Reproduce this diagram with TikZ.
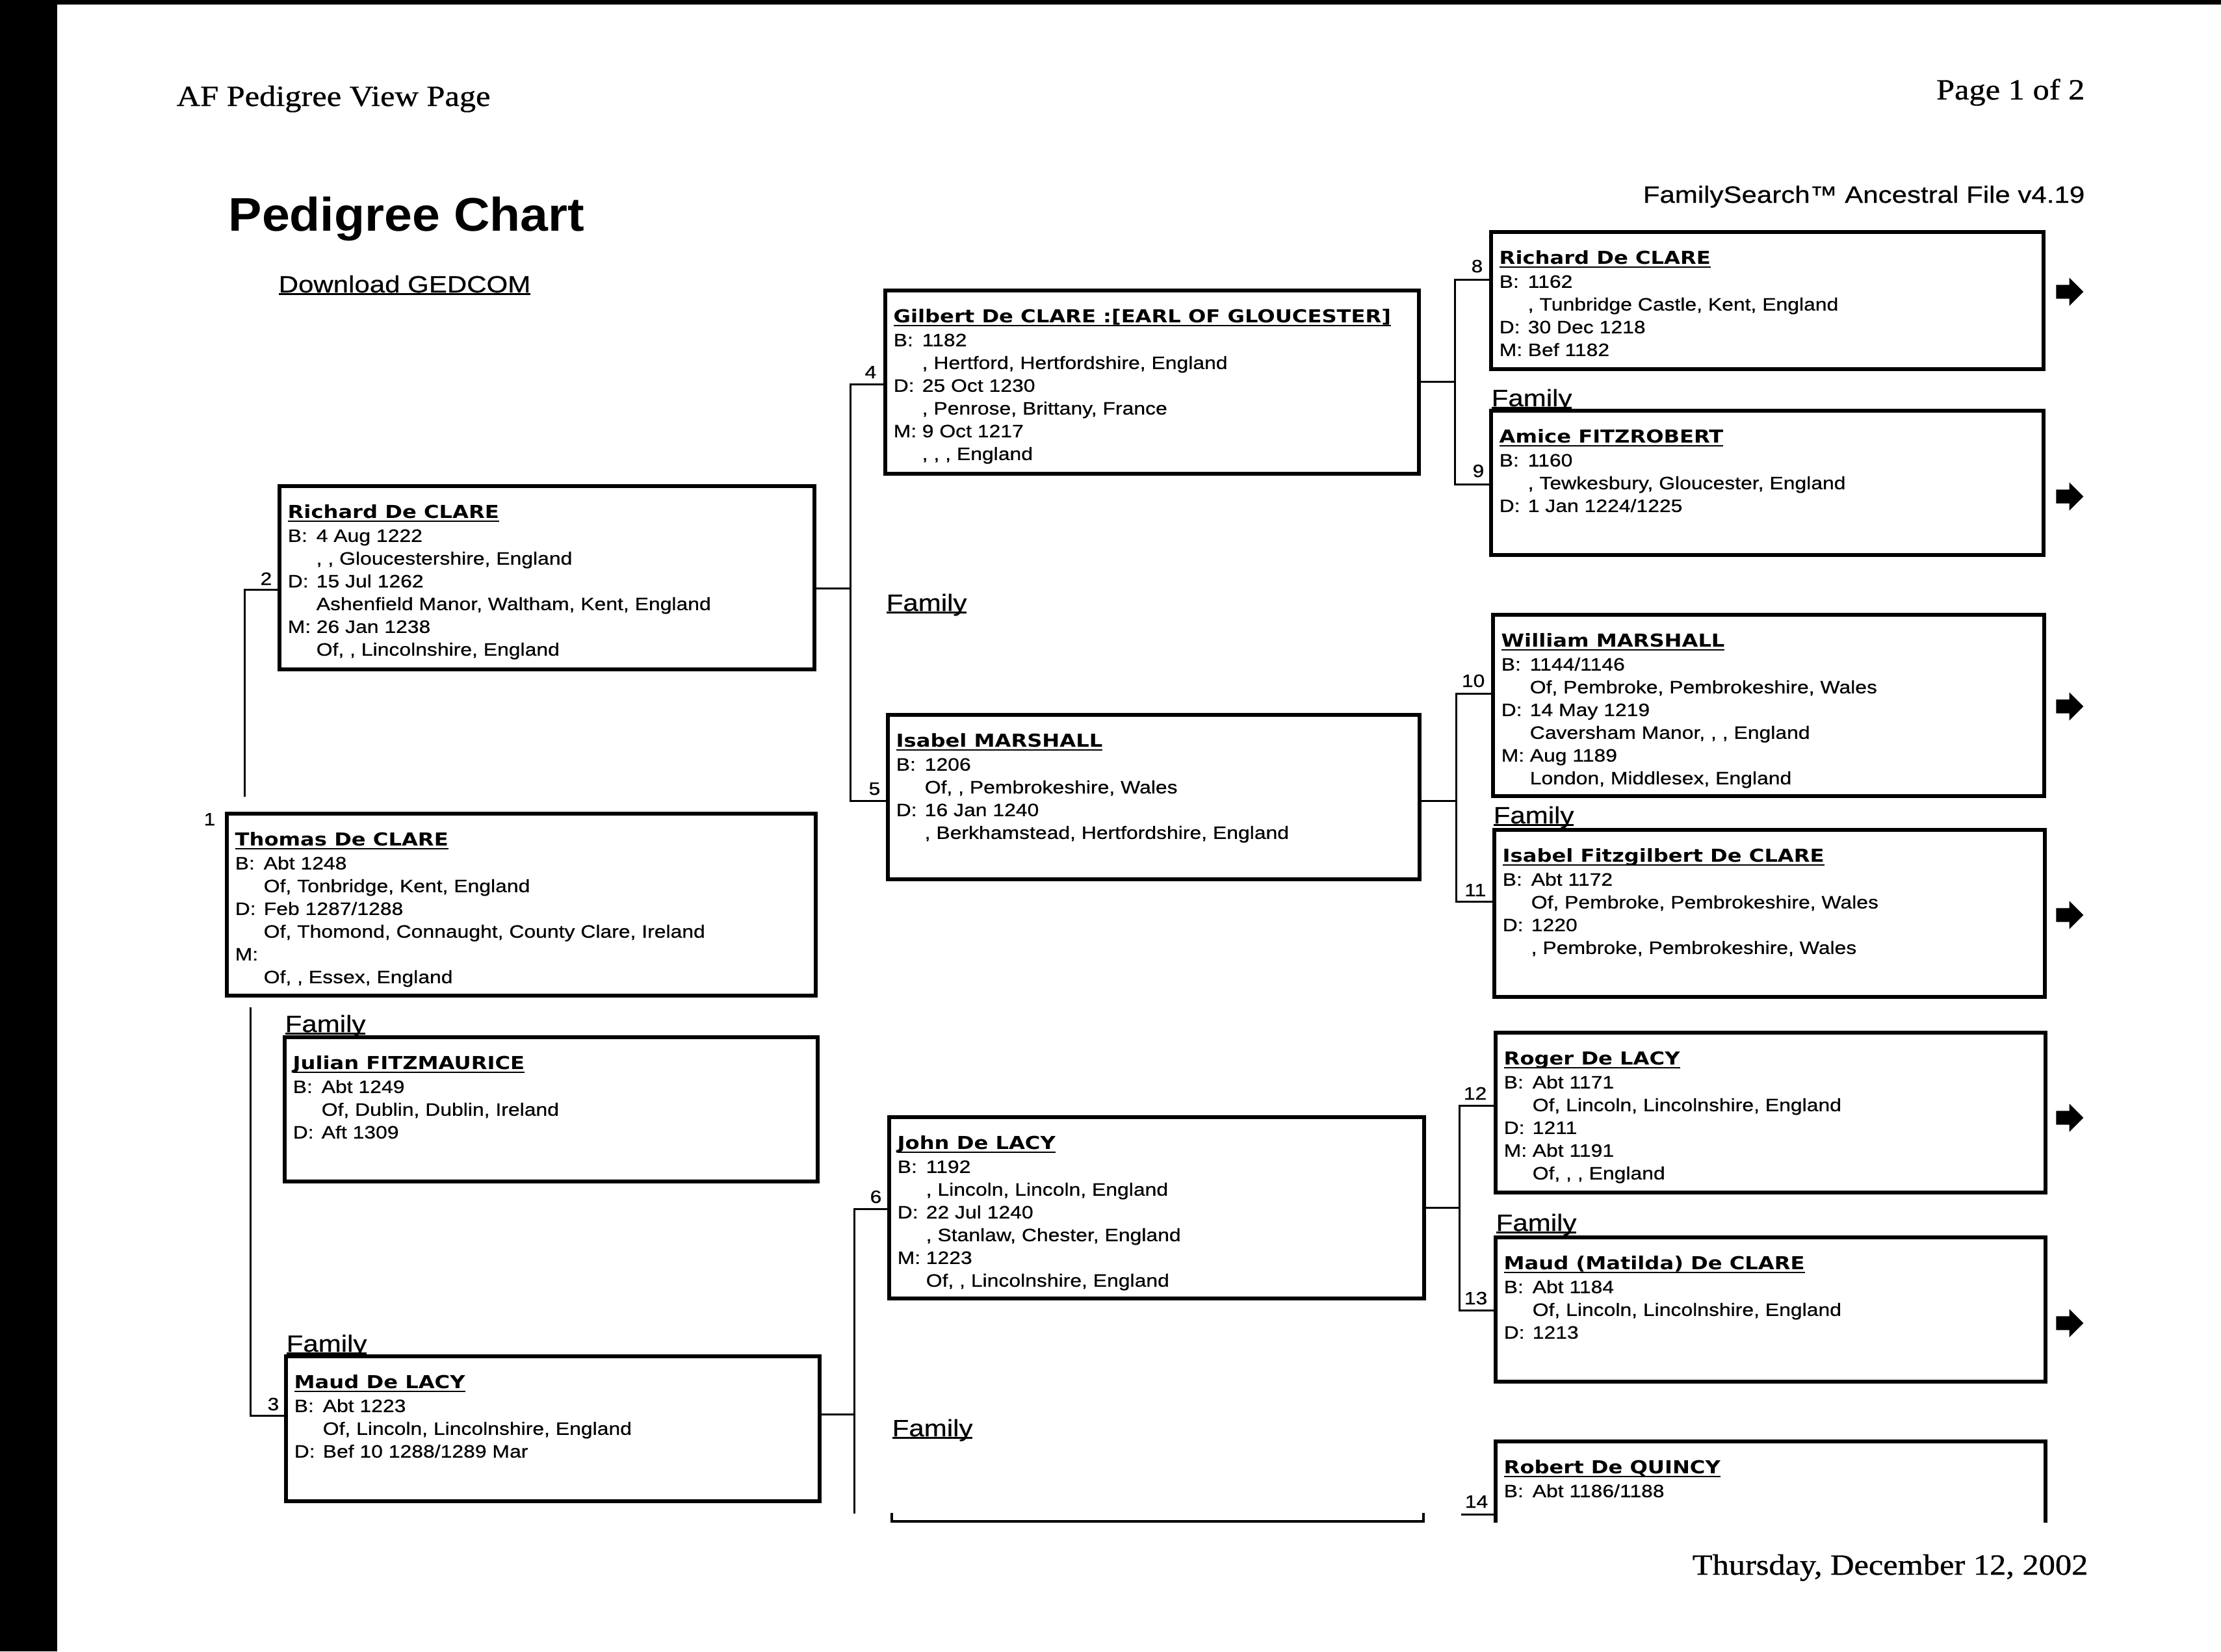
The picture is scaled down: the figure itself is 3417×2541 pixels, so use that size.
\documentclass[tikz,border=0pt]{standalone}
\usepackage{fontspec}
\setmainfont{Liberation Serif}
\newfontfamily\serifx{Liberation Serif}[FakeStretch=1.12,FakeBold=0.8]
\newfontfamily\sansx{Liberation Sans}[FakeStretch=1.16,FakeBold=0.6]
\newfontfamily\titlex{Liberation Sans}[FakeStretch=1.06]
\newfontfamily\namex{DejaVu Sans}[FakeStretch=1.17]
\usetikzlibrary{fit}
\usetikzlibrary{positioning}
\usetikzlibrary{shapes.arrows}

\newcommand{\hdrfont}{\serifx\fontsize{12.8pt}{15pt}\selectfont}
\newcommand{\titlefont}{\titlex\bfseries\fontsize{20.65pt}{24pt}\selectfont}
\newcommand{\linkfont}{\sansx\fontsize{10.3pt}{12pt}\selectfont}
\newcommand{\boxfont}{\sansx\fontsize{7.82pt}{0.35cm}\selectfont}
\newsavebox\ulbox
\newcommand{\ul}[1]{\sbox\ulbox{#1}\rlap{\rule[-0.035cm]{\wd\ulbox}{0.022cm}}\usebox\ulbox}
\newcommand{\pname}[1]{\rule{0pt}{0.3cm}\sbox\ulbox{\namex\bfseries #1}\rlap{\rule[-0.055cm]{\wd\ulbox}{0.025cm}}\usebox\ulbox}
\newcommand{\fld}[2]{\makebox[0.44cm][l]{#1}#2}
\newcommand{\cont}[1]{\hspace*{0.44cm}#1}

\begin{document}
\begin{tikzpicture}[x=0.01cm,y=-0.01cm,
  pbox/.style={draw,line width=0.06cm,inner sep=0pt,outer sep=0pt},
  ptext/.style={anchor=north west,inner sep=0pt,align=left,font=\boxfont},
  link/.style={line width=0.03cm},
  num/.style={anchor=base east,inner sep=0pt,font=\boxfont},
  famlabel/.style={anchor=base west,inner sep=0pt,font=\linkfont},
  nextgen/.style={single arrow,fill=black,inner xsep=0pt,inner ysep=0.1cm,minimum height=0.42cm,single arrow head extend=0.11cm,single arrow head indent=0pt}]
  \useasboundingbox (0,0) rectangle (3417,2541);
  \fill[white] (0,0) rectangle (3417,2541);
  \fill[black] (0,0) rectangle (88,2541);
  \fill[black] (0,0) rectangle (3417,7);

  \node[anchor=base west,inner sep=0pt,font=\hdrfont] (hdr) at (271,163) {AF Pedigree View Page};
  \node[anchor=base east,inner sep=0pt,font=\hdrfont] (page) at (3208,153) {Page 1 of 2};
  \node[anchor=base west,inner sep=0pt,font=\titlefont] (title) at (351,355) {Pedigree Chart};
  \node[anchor=base west,inner sep=0pt,font=\linkfont] (gedcom) at (428,450) {\ul{Download GEDCOM}};
  \node[anchor=base east,inner sep=0pt,font=\linkfont] (fsearch) at (3208,312) {FamilySearch™ Ancestral File v4.19};
  \node[anchor=base east,inner sep=0pt,font=\hdrfont] (date) at (3213,2423) {Thursday, December 12, 2002};

  \node[pbox,fit={(349,1252) (1255,1532)}] (b1) {};
  \node[pbox,fit={(438,1596) (1258,1818)}] (bJ) {};
  \node[pbox,fit={(430,748) (1253,1030)}] (b2) {};
  \node[pbox,fit={(440,2087) (1261,2310)}] (b3) {};
  \node[pbox,fit={(1362,447) (2183,729)}] (b4) {};
  \node[pbox,fit={(1366,1100) (2184,1353)}] (b5) {};
  \node[pbox,fit={(1368,1719) (2191,1998)}] (b6) {};
  \node[pbox,fit={(2294,357) (3144,568)}] (b8) {};
  \node[pbox,fit={(2294,632) (3144,854)}] (b9) {};
  \node[pbox,fit={(2297,946) (3145,1225)}] (b10) {};
  \node[pbox,fit={(2299,1277) (3146,1534)}] (b11) {};
  \node[pbox,fit={(2301,1589) (3147,1835)}] (b12) {};
  \node[pbox,fit={(2301,1904) (3147,2126)}] (b13) {};
  \node[fit={(2301,2218) (3147,2343)},inner sep=0pt,outer sep=0pt] (b14) {};
  \draw[line width=0.06cm] (b14.south west) -- (b14.north west) -- (b14.north east) -- (b14.south east);
  \node[fit={(1372,2328) (2190,2341)},inner sep=0pt,outer sep=0pt] (b7) {};
  \draw[line width=0.04cm] (b7.north west) -- (b7.south west) -- (b7.south east) -- (b7.north east);

  \node[ptext] (t1) at ([shift={(0.12cm,-0.19cm)}]b1.north west) {\pname{Thomas De CLARE}\\[0.01cm] \fld{B:}{Abt 1248}\\ \cont{Of, Tonbridge, Kent, England}\\ \fld{D:}{Feb 1287/1288}\\ \cont{Of, Thomond, Connaught, County Clare, Ireland}\\ \fld{M:}{}\\ \cont{Of, , Essex, England}};
  \node[ptext] (tJ) at ([shift={(0.12cm,-0.19cm)}]bJ.north west) {\pname{Julian FITZMAURICE}\\[0.01cm] \fld{B:}{Abt 1249}\\ \cont{Of, Dublin, Dublin, Ireland}\\ \fld{D:}{Aft 1309}};
  \node[ptext] (t2) at ([shift={(0.12cm,-0.19cm)}]b2.north west) {\pname{Richard De CLARE}\\[0.01cm] \fld{B:}{4 Aug 1222}\\ \cont{, , Gloucestershire, England}\\ \fld{D:}{15 Jul 1262}\\ \cont{Ashenfield Manor, Waltham, Kent, England}\\ \fld{M:}{26 Jan 1238}\\ \cont{Of, , Lincolnshire, England}};
  \node[ptext] (t3) at ([shift={(0.12cm,-0.19cm)}]b3.north west) {\pname{Maud De LACY}\\[0.01cm] \fld{B:}{Abt 1223}\\ \cont{Of, Lincoln, Lincolnshire, England}\\ \fld{D:}{Bef 10 1288/1289 Mar}};
  \node[ptext] (t4) at ([shift={(0.12cm,-0.19cm)}]b4.north west) {\pname{Gilbert De CLARE :[EARL OF GLOUCESTER]}\\[0.01cm] \fld{B:}{1182}\\ \cont{, Hertford, Hertfordshire, England}\\ \fld{D:}{25 Oct 1230}\\ \cont{, Penrose, Brittany, France}\\ \fld{M:}{9 Oct 1217}\\ \cont{, , , England}};
  \node[ptext] (t5) at ([shift={(0.12cm,-0.19cm)}]b5.north west) {\pname{Isabel MARSHALL}\\[0.01cm] \fld{B:}{1206}\\ \cont{Of, , Pembrokeshire, Wales}\\ \fld{D:}{16 Jan 1240}\\ \cont{, Berkhamstead, Hertfordshire, England}};
  \node[ptext] (t6) at ([shift={(0.12cm,-0.19cm)}]b6.north west) {\pname{John De LACY}\\[0.01cm] \fld{B:}{1192}\\ \cont{, Lincoln, Lincoln, England}\\ \fld{D:}{22 Jul 1240}\\ \cont{, Stanlaw, Chester, England}\\ \fld{M:}{1223}\\ \cont{Of, , Lincolnshire, England}};
  \node[ptext] (t8) at ([shift={(0.12cm,-0.19cm)}]b8.north west) {\pname{Richard De CLARE}\\[0.01cm] \fld{B:}{1162}\\ \cont{, Tunbridge Castle, Kent, England}\\ \fld{D:}{30 Dec 1218}\\ \fld{M:}{Bef 1182}};
  \node[ptext] (t9) at ([shift={(0.12cm,-0.19cm)}]b9.north west) {\pname{Amice FITZROBERT}\\[0.01cm] \fld{B:}{1160}\\ \cont{, Tewkesbury, Gloucester, England}\\ \fld{D:}{1 Jan 1224/1225}};
  \node[ptext] (t10) at ([shift={(0.12cm,-0.19cm)}]b10.north west) {\pname{William MARSHALL}\\[0.01cm] \fld{B:}{1144/1146}\\ \cont{Of, Pembroke, Pembrokeshire, Wales}\\ \fld{D:}{14 May 1219}\\ \cont{Caversham Manor, , , England}\\ \fld{M:}{Aug 1189}\\ \cont{London, Middlesex, England}};
  \node[ptext] (t11) at ([shift={(0.12cm,-0.19cm)}]b11.north west) {\pname{Isabel Fitzgilbert De CLARE}\\[0.01cm] \fld{B:}{Abt 1172}\\ \cont{Of, Pembroke, Pembrokeshire, Wales}\\ \fld{D:}{1220}\\ \cont{, Pembroke, Pembrokeshire, Wales}};
  \node[ptext] (t12) at ([shift={(0.12cm,-0.19cm)}]b12.north west) {\pname{Roger De LACY}\\[0.01cm] \fld{B:}{Abt 1171}\\ \cont{Of, Lincoln, Lincolnshire, England}\\ \fld{D:}{1211}\\ \fld{M:}{Abt 1191}\\ \cont{Of, , , England}};
  \node[ptext] (t13) at ([shift={(0.12cm,-0.19cm)}]b13.north west) {\pname{Maud (Matilda) De CLARE}\\[0.01cm] \fld{B:}{Abt 1184}\\ \cont{Of, Lincoln, Lincolnshire, England}\\ \fld{D:}{1213}};
  \node[ptext] (t14) at ([shift={(0.12cm,-0.19cm)}]b14.north west) {\pname{Robert De QUINCY}\\[0.01cm] \fld{B:}{Abt 1186/1188}};

  \node[famlabel] (f1) at (438,1588) {\ul{Family}};
  \node[famlabel] (f2) at (1363,940) {\ul{Family}};
  \node[famlabel] (f3) at (440,2080) {\ul{Family}};
  \node[famlabel] (f4) at (2294,625) {\ul{Family}};
  \node[famlabel] (f5) at (2297,1267) {\ul{Family}};
  \node[famlabel] (f6) at (2301,1894) {\ul{Family}};
  \node[famlabel] (f7) at (1372,2210) {\ul{Family}};

  \node[num] (n1) at (332,1270) {1};
  \node[num] (n2) at (419,900) {2};
  \node[num] (n3) at (430,2170) {3};
  \node[num] (n4) at (1349,582) {4};
  \node[num] (n5) at (1355,1223) {5};
  \node[num] (n6) at (1357,1851) {6};
  \node[num] (n8) at (2282,419) {8};
  \node[num] (n9) at (2284,734) {9};
  \node[num] (n10) at (2285,1057) {10};
  \node[num] (n11) at (2287,1379) {11};
  \node[num] (n12) at (2288,1692) {12};
  \node[num] (n13) at (2289,2007) {13};
  \node[num] (n14) at (2290,2320) {14};

  \coordinate (c2) at (376,907);
  \coordinate (c1t) at (376,1226);
  \coordinate (c1b) at (385,1550);
  \coordinate (c3) at (385,2178);
  \coordinate (k45) at (1308,905);
  \coordinate (j4) at (1308,591);
  \coordinate (j5) at (1308,1232);
  \coordinate (k67) at (1314,2176);
  \coordinate (j6) at (1314,1860);
  \coordinate (j7) at (1314,2329);
  \coordinate (k89) at (2238,587);
  \coordinate (j8) at (2238,430);
  \coordinate (j9) at (2238,745);
  \coordinate (k1011) at (2240,1232);
  \coordinate (j10) at (2240,1067);
  \coordinate (j11) at (2240,1387);
  \coordinate (k1213) at (2245,1858);
  \coordinate (j12) at (2245,1701);
  \coordinate (j13) at (2245,2016);
  \coordinate (j14) at (2248,2330);

  \draw[link] (b2.west |- c2) -- (c2) -- (c1t);
  \draw[link] (c1b) -- (c3) -- (b3.west |- c3);
  \draw[link] (b2.east |- k45) -- (k45);
  \draw[link] (b4.west |- j4) -- (j4) -- (j5) -- (b5.west |- j5);
  \draw[link] (b3.east |- k67) -- (k67);
  \draw[link] (b6.west |- j6) -- (j6) -- (j7);
  \draw[link] (b4.east |- k89) -- (k89);
  \draw[link] (b8.west |- j8) -- (j8) -- (j9) -- (b9.west |- j9);
  \draw[link] (b5.east |- k1011) -- (k1011);
  \draw[link] (b10.west |- j10) -- (j10) -- (j11) -- (b11.west |- j11);
  \draw[link] (b6.east |- k1213) -- (k1213);
  \draw[link] (b12.west |- j12) -- (j12) -- (j13) -- (b13.west |- j13);
  \draw[link] (j14) -- (b14.west |- j14);

  \node[nextgen] (a8) at (3179,449) {};
  \node[nextgen] (a9) at (3179,764) {};
  \node[nextgen] (a10) at (3179,1087) {};
  \node[nextgen] (a11) at (3179,1408) {};
  \node[nextgen] (a12) at (3179,1720) {};
  \node[nextgen] (a13) at (3179,2036) {};
\end{tikzpicture}
\end{document}
